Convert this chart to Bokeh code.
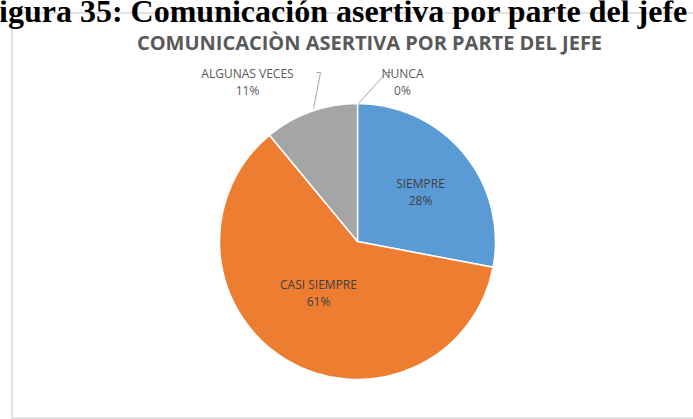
import math
from bokeh.plotting import figure
from bokeh.models import Range1d, ColumnDataSource
from bokeh.embed import file_html
from bokeh.resources import INLINE
from bokeh.core.properties import value

# ---- data ----
categories = ["SIEMPRE", "CASI SIEMPRE", "ALGUNAS VECES", "NUNCA"]
percents = [28, 61, 11, 0]
colors = ["#5B9BD5", "#ED7D31", "#A5A5A5", "#FFC000"]
title_text = "COMUNICACIÒN ASERTIVA POR PARTE DEL JEFE"
caption_text = "Figura 35: Comunicación asertiva por parte del jefe"

# ---- layout / style ----
W, H = 693, 419
cx, cy_px, R = 357, 241, 138
# label offsets from pie centre (pixels, y down) -- style only
label_offsets = [(63, -50), (-39, 51), (-110, -160), (45, -160)]
label_colors = ["#404040", "#404040", "#595959", "#595959"]


def Y(y):
    return H - y


p = figure(width=W, height=H, x_range=Range1d(0, W), y_range=Range1d(0, H),
           output_backend="svg", toolbar_location=None, min_border=0)
p.axis.visible = False
p.grid.visible = False
p.outline_line_color = None
p.background_fill_color = "white"
p.margin = 0

# chart area border
p.quad(left=11.5, right=720, top=Y(12.5), bottom=Y(417.5), fill_color="white",
       line_color="#D9D9D9", line_width=1.5)

# caption (cut at top of page)
p.text(x=[-21], y=[Y(10)], text=[caption_text], text_font=value("Liberation Serif"),
       text_font_style="bold", text_font_size="32px", text_color="black",
       text_baseline="alphabetic", text_align="left")

# title
p.text(x=[369], y=[Y(42)], text=[title_text], text_font=value("Open Sans"),
       text_font_style="bold", text_font_size="20px", text_color="#595959",
       text_baseline="middle", text_align="center")

# wedges
total = sum(percents)
starts, ends = [], []
acc = 0
for v in percents:
    starts.append(math.pi / 2 - 2 * math.pi * acc / total)
    acc += v
    ends.append(math.pi / 2 - 2 * math.pi * acc / total)

idx = [i for i, v in enumerate(percents) if v > 0]
src = ColumnDataSource(dict(
    cat=[categories[i] for i in idx],
    start=[starts[i] for i in idx],
    end=[ends[i] for i in idx],
    color=[colors[i] for i in idx],
))
p.wedge(x=cx, y=Y(cy_px), radius=R, start_angle="start", end_angle="end",
        direction="clock", fill_color="color", line_color="white",
        line_width=1.5, source=src)

# leader lines
p.line(x=[316, 320, 313], y=[Y(72), Y(72), Y(108)], line_color="#A6A6A6", line_width=1)
p.line(x=[392, 386, 358], y=[Y(72), Y(72), Y(103)], line_color="#A6A6A6", line_width=1)

# labels
lx = [cx + dx for dx, dy in label_offsets]
ly = [Y(cy_px + dy) for dx, dy in label_offsets]
lab = ColumnDataSource(dict(
    x=lx, y=ly, name=categories, pct=[f"{v}%" for v in percents], color=label_colors))
p.text(x="x", y="y", text="name", source=lab, text_font=value("Open Sans"),
       text_font_size="12px", text_color="color", text_align="center",
       text_baseline="middle", y_offset=-8.5)
p.text(x="x", y="y", text="pct", source=lab, text_font=value("Open Sans"),
       text_font_size="12px", text_color="color", text_align="center",
       text_baseline="middle", y_offset=8.5)

open("out.html", "w").write(file_html(p, INLINE))
